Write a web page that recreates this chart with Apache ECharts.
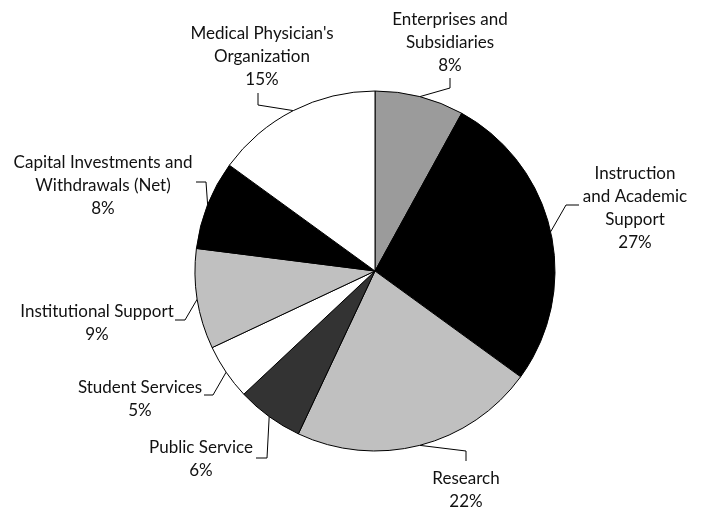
<!DOCTYPE html>
<html>
<head>
<meta charset="utf-8">
<script src="https://cdn.jsdelivr.net/npm/echarts@6/dist/echarts.min.js"></script>
<style>
  html, body { margin: 0; padding: 0; background: #fff; }
  #main { width: 707px; height: 508px; }
</style>
</head>
<body>
<div id="main"></div>
<script>
// 各项支出占比（%），顺时针从12点开始
const names = [
  'Enterprises and\nSubsidiaries',
  'Instruction\nand Academic\nSupport',
  'Research',
  'Public Service',
  'Student Services',
  'Institutional Support',
  'Capital Investments and\nWithdrawals (Net)',
  "Medical Physician's\nOrganization"
];
const values = [8, 27, 22, 6, 5, 9, 8, 15];
const colors = ['#9b9b9b', '#000000', '#c0c0c0', '#333333', '#ffffff', '#c0c0c0', '#000000', '#ffffff'];

// 标签位置（文字中心x，顶部y）和引导线拐点
const labelPos = [
  [450, 8], [635, 162], [466, 467], [201, 436],
  [140, 376], [97, 300], [103, 151], [262, 22]
];
const linePts = [
  [[450, 88], [450, 78]],
  [[566, 205], [579, 205]],
  [[466, 451], [466, 461]],
  [[267, 458], [256, 458]],
  [[213, 395], [204, 395]],
  [[185, 320], [175, 320]],
  [[206, 182], [196, 182]],
  [[258, 105], [258, 93]]
];

const chart = echarts.init(document.getElementById('main'));
let chartData = []
for (let i = 0; i < names.length; i++) {
  chartData.push({ name: names[i], value: values[i], itemStyle: { color: colors[i] } })
}
chart.setOption({
  animation: false,
  series: [{
    type: 'pie',
    center: [375, 271],
    radius: 180,
    startAngle: 90,
    clockwise: true,
    avoidLabelOverlap: false,
    itemStyle: { borderColor: '#000', borderWidth: 1 },
    label: {
      position: 'outside',
      color: '#111',
      fontFamily: 'Lato',
      fontSize: 17,
      lineHeight: 23,
      align: 'center',
      formatter: p => p.name + '\n' + p.value + '%'
    },
    labelLine: { show: true, lineStyle: { color: '#000', width: 1 } },
    labelLayout: params => {
      const i = params.dataIndex
      const start = params.labelLinePoints ? params.labelLinePoints[0] : linePts[i][0]
      return {
        x: labelPos[i][0],
        y: labelPos[i][1],
        align: 'center',
        verticalAlign: 'top',
        labelLinePoints: [start, linePts[i][0], linePts[i][1]]
      }
    },
    emphasis: { disabled: true },
    data: chartData
  }]
});
</script>
</body>
</html>
